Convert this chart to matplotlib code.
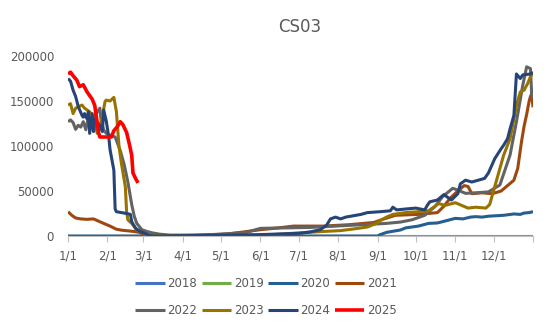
import matplotlib
matplotlib.use("Agg")
import matplotlib.pyplot as plt

# Day-of-year positions and values for each year's curve
days_2018 = [0, 365]
vals_2018 = [0, 0]

days_2019 = [0, 365]
vals_2019 = [0, 0]

days_2020 = [0, 243, 245, 250, 256, 261, 265, 270, 275, 283, 290, 297, 304, 310,
             316, 320, 325, 330, 336, 342, 350, 355, 358, 362, 365]
vals_2020 = [0, 0, 1500, 4000, 5500, 6700, 9000, 10000, 11000, 14000, 14500, 17000,
             19600, 19000, 21000, 21500, 21000, 22000, 22500, 23000, 24500, 24000,
             25500, 26000, 27000]

days_2021 = [0, 3, 6, 10, 15, 20, 24, 28, 33, 38, 42, 46, 52, 56, 60, 64, 70, 90,
             110, 127, 143, 151, 165, 177, 188, 200, 220, 240, 247, 257, 275, 290,
             295, 300, 306, 311, 314, 317, 325, 333, 340, 345, 350, 353, 356, 358,
             360, 362, 363, 364, 365]
vals_2021 = [27000, 23000, 20000, 19000, 18500, 19000, 16500, 14000, 11000, 7500,
             6500, 5900, 5000, 4000, 1500, 500, 300, 500, 1200, 2500, 5500, 7000,
             9000, 11000, 11000, 11000, 12500, 15000, 18500, 23000, 24000, 26000,
             33000, 42000, 50000, 56000, 55000, 47000, 48000, 47000, 50000, 56000,
             62000, 75000, 105000, 122000, 135000, 150000, 155000, 158000, 143000]

days_2022 = [0, 2, 4, 6, 8, 10, 12, 14, 16, 19, 20, 23, 25, 26, 28, 30, 33, 37, 41,
             44, 47, 50, 52, 54, 58, 62, 66, 72, 80, 100, 120, 140, 151, 170, 190,
             210, 230, 250, 261, 270, 280, 288, 294, 302, 306, 312, 320, 330, 339,
             347, 352, 357, 360, 363, 364, 365]
vals_2022 = [127000, 129000, 126000, 118500, 123000, 121000, 127000, 118000, 132000,
             124000, 130000, 138000, 142000, 128000, 118000, 114000, 112000, 110000,
             95000, 80000, 60000, 35000, 22000, 14000, 7000, 5000, 3500, 2000, 1000,
             1000, 2000, 4000, 8500, 9000, 9500, 11000, 12500, 14000, 15500, 18000,
             23000, 32600, 43700, 53000, 51000, 47400, 48000, 49000, 56700, 90000,
             127000, 167800, 188000, 186000, 156700, 153000]

days_2023 = [0, 2, 4, 6, 11, 13, 17, 20, 23, 26, 29, 30, 33, 36, 38, 40, 42, 45, 46,
             47, 50, 54, 58, 62, 65, 70, 100, 130, 150, 160, 182, 200, 214, 225, 235,
             242, 245, 250, 255, 265, 275, 283, 287, 291, 296, 304, 309, 314, 320,
             328, 331, 334, 337, 342, 347, 352, 355, 358, 361, 363, 365]
vals_2023 = [145500, 147000, 136000, 142000, 145500, 142000, 138000, 132000, 114000,
             125000, 149000, 151000, 150000, 154000, 138000, 100000, 80000, 55000,
             27000, 18000, 14000, 7000, 4000, 1000, 0, 500, 300, 800, 1000, 1500,
             3500, 5000, 6000, 8000, 10000, 14000, 17000, 21000, 24000, 26000, 27000,
             28000, 32000, 36000, 34000, 37000, 34000, 31000, 32000, 31000, 35000,
             50000, 65000, 90000, 108000, 145000, 160000, 162000, 170000, 177000,
             181000]

days_2024 = [0, 2, 4, 6, 8, 11, 12, 13, 15, 16, 17, 19, 20, 21, 24, 27, 28, 30, 32,
             33, 36, 37, 38, 46, 49, 50, 53, 57, 62, 65, 100, 150, 182, 190, 198,
             203, 206, 210, 214, 218, 222, 230, 235, 245, 253, 255, 258, 265, 273,
             280, 282, 284, 290, 295, 301, 306, 308, 312, 317, 322, 327, 330, 335,
             340, 342, 345, 347, 350, 352, 355, 357, 363, 365]
vals_2024 = [175000, 172000, 162000, 155000, 144000, 134000, 132000, 136000, 130000,
             138000, 114000, 136000, 116000, 130000, 125000, 116000, 140000, 128000,
             110000, 96000, 73000, 30000, 27000, 25000, 24000, 16000, 8500, 4800,
             2000, 0, 500, 1500, 3000, 4500, 7000, 12000, 19000, 21000, 19000, 21000,
             22000, 24000, 26000, 27000, 28000, 32000, 29000, 30000, 31000, 29000,
             34000, 38000, 40000, 46000, 40000, 47000, 58000, 62000, 60000, 62000,
             64000, 70000, 86000, 97000, 101000, 108000, 119000, 134000, 180000,
             175000, 179000, 180000, 182000]

days_2025 = [0, 2, 4, 7, 9, 12, 15, 19, 21, 22, 24, 25, 34, 36, 39, 41, 43, 46, 48,
             50, 51, 53, 55]
vals_2025 = [180000, 182000, 178000, 173000, 166000, 168000, 160000, 152000, 145000,
             135000, 115000, 110000, 110000, 117000, 122000, 127000, 124000, 115000,
             103000, 90000, 70000, 64000, 59000]

years = ["2018", "2019", "2020", "2021", "2022", "2023", "2024", "2025"]
series = [(days_2018, vals_2018), (days_2019, vals_2019), (days_2020, vals_2020),
          (days_2021, vals_2021), (days_2022, vals_2022), (days_2023, vals_2023),
          (days_2024, vals_2024), (days_2025, vals_2025)]
colors = ["#4472C4", "#70AD47", "#255E91", "#9E480E", "#636363", "#997300",
          "#264478", "#FF0000"]

month_starts = [0, 31, 59, 90, 120, 151, 181, 212, 243, 273, 304, 334, 365]
month_labels = ["1/1", "2/1", "3/1", "4/1", "5/1", "6/1", "7/1", "8/1", "9/1",
                "10/1", "11/1", "12/1", ""]
y_ticks = [0, 50000, 100000, 150000, 200000]

text_color = "#595959"
plt.rcParams["font.family"] = ["DejaVu Sans"]

fig = plt.figure(figsize=(5.5, 3.3), dpi=100)
ax = fig.add_axes([68 / 550, 1 - 236 / 330, (533 - 68) / 550, 180 / 330])

handles = []
for (d, v), c, y in zip(series, colors, years):
    lw = 2.6 if y == "2025" else 2.2
    line, = ax.plot(d, v, color=c, lw=lw, label=y, solid_joinstyle="round",
                    solid_capstyle="butt")
    handles.append(line)

ax.set_xlim(0, 365)
ax.set_ylim(0, 200000)
ax.set_xticks(month_starts)
ax.set_xticklabels(month_labels)
ax.set_yticks(y_ticks)
ax.set_yticklabels([str(t) for t in y_ticks])

for s in ["top", "right", "left"]:
    ax.spines[s].set_visible(False)
ax.spines["bottom"].set_color("#BFBFBF")
ax.spines["bottom"].set_linewidth(0.8)
ax.tick_params(axis="x", colors="#BFBFBF", labelcolor=text_color, length=4,
               width=0.8, labelsize=8.5, pad=6)
ax.tick_params(axis="y", length=0, labelcolor=text_color, labelsize=8.5, pad=10)

fig.text(300 / 550, 1 - 27 / 330, "CS03", ha="center", va="center",
         fontsize=12, color=text_color)

# legend fills column by column, so interleave to get two rows of four years
order = [0, 4, 1, 5, 2, 6, 3, 7]
fig.legend([handles[i] for i in order], [years[i] for i in order],
           loc="center", bbox_to_anchor=(266 / 550, 1 - 297 / 330), ncol=4,
           frameon=False, fontsize=8.5, labelcolor=text_color, handlelength=2.5,
           handletextpad=0.25, columnspacing=0.35, labelspacing=1.2)

fig.savefig("out.png", dpi=100)
